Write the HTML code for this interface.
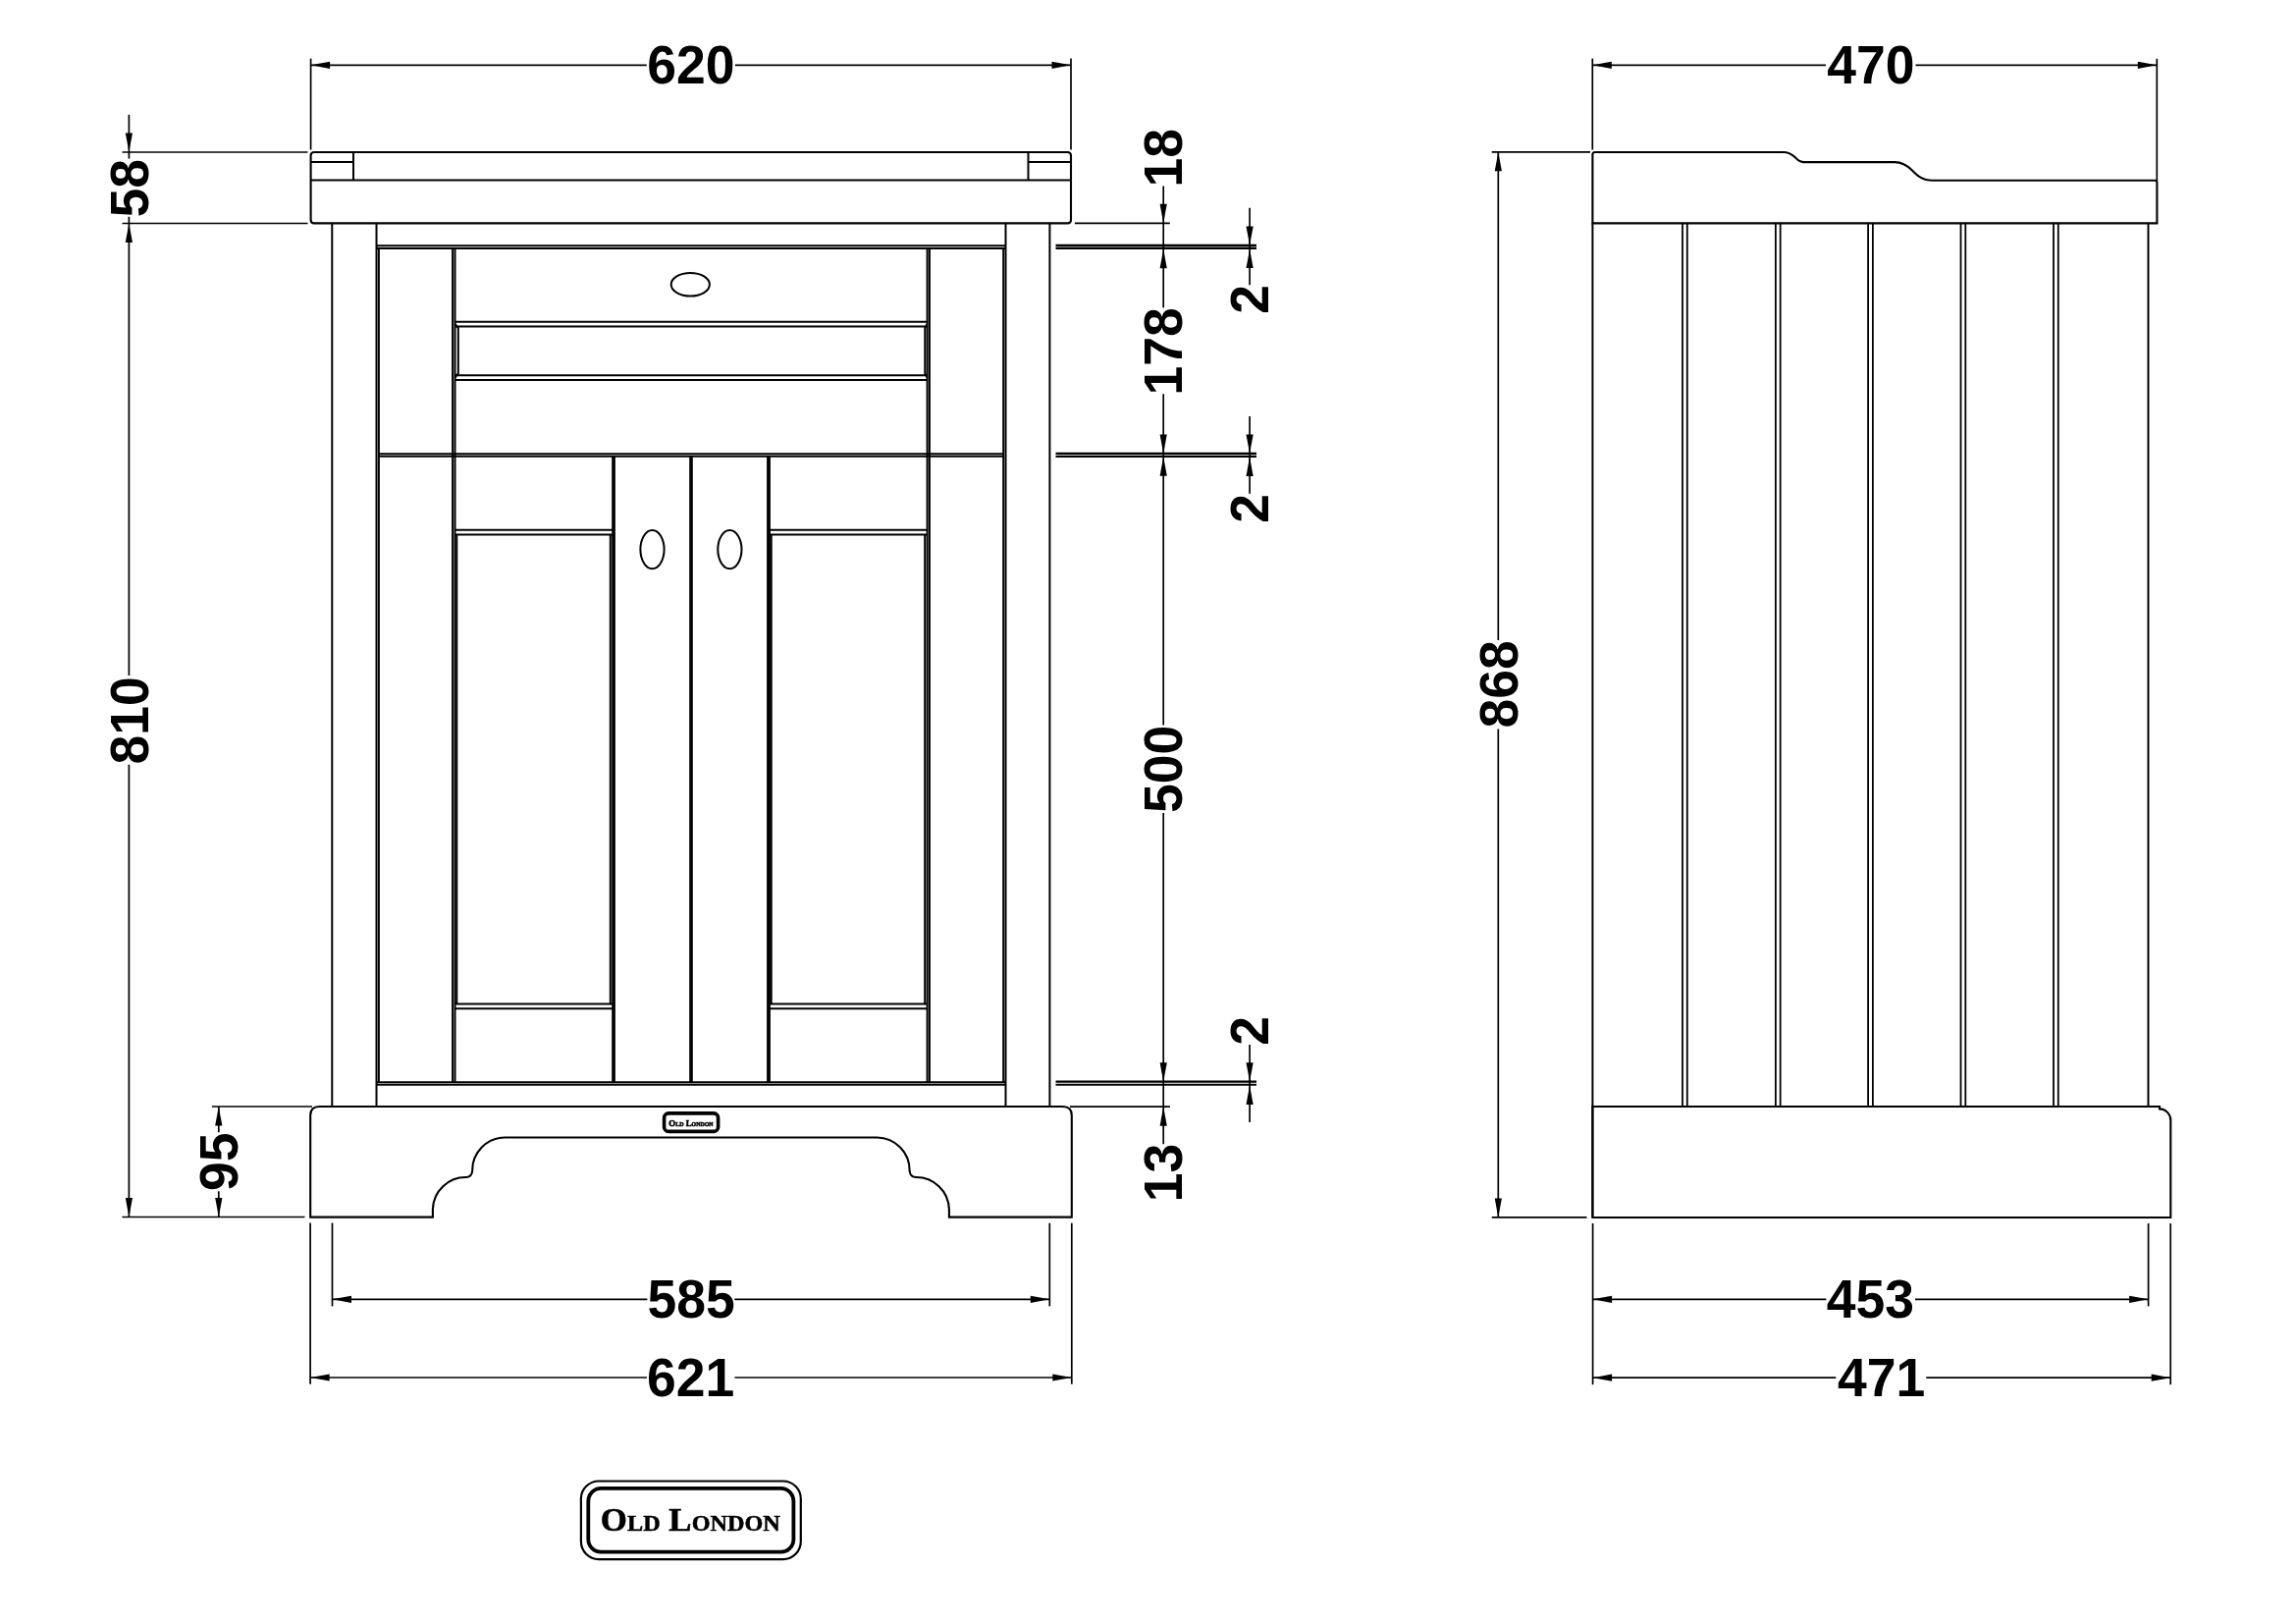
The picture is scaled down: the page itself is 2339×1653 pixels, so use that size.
<!DOCTYPE html>
<html><head><meta charset="utf-8"><title>Drawing</title>
<style>
html,body{margin:0;padding:0;background:#fff;}
body{width:2339px;height:1653px;overflow:hidden;}
svg{display:block;filter:grayscale(1);}
svg text{font-family:"Liberation Sans",sans-serif;font-weight:bold;font-size:53.5px;fill:#000;stroke:none;}
svg text.logo{font-family:"Liberation Serif",serif;font-variant:small-caps;font-weight:bold;stroke:#000;stroke-width:0.5px;}
</style></head>
<body>
<svg width="2339" height="1653" viewBox="0 0 2339 1653">
<rect x="0" y="0" width="2339" height="1653" fill="#fff"/>
<g stroke="#000" fill="none" stroke-linecap="butt">
<line x1="316.6" y1="59.6" x2="316.6" y2="152.5" stroke-width="1.7"/>
<line x1="1091" y1="59.6" x2="1091" y2="152.5" stroke-width="1.7"/>
<line x1="316.6" y1="66.3" x2="658.8" y2="66.3" stroke-width="1.7"/>
<line x1="748.9" y1="66.3" x2="1091" y2="66.3" stroke-width="1.7"/>
<polygon points="316.6,66.3 336.1,62.7 336.1,69.9" stroke="none" fill="#000"/>
<polygon points="1091,66.3 1071.5,62.7 1071.5,69.9" stroke="none" fill="#000"/>
<text transform="translate(703.8 66.3) scale(1 1.035)" x="0" y="18.5" text-anchor="middle">620</text>
<path d="M316.6,224 L316.6,158.5 Q316.6,155 320.1,155 L1087.5,155 Q1091,155 1091,158.5 L1091,224 Q1091,227.4 1087.6,227.4 L320,227.4 Q316.6,227.4 316.6,224 Z" stroke-width="2.1" fill="none"/>
<line x1="316.6" y1="165" x2="360" y2="165" stroke-width="2"/>
<line x1="360" y1="155" x2="360" y2="183.6" stroke-width="2"/>
<line x1="1047.5" y1="165" x2="1091" y2="165" stroke-width="2"/>
<line x1="1047.5" y1="155" x2="1047.5" y2="183.6" stroke-width="2"/>
<line x1="316.6" y1="183.6" x2="1091" y2="183.6" stroke-width="2"/>
<line x1="124.5" y1="155" x2="313.5" y2="155" stroke-width="1.7"/>
<line x1="124.5" y1="227.5" x2="313.5" y2="227.5" stroke-width="1.7"/>
<line x1="124.4" y1="1239.5" x2="310.5" y2="1239.5" stroke-width="1.7"/>
<line x1="215.9" y1="1127" x2="318" y2="1127" stroke-width="1.7"/>
<line x1="131.4" y1="116.8" x2="131.4" y2="161.6" stroke-width="1.7"/>
<polygon points="131.4,155 127.8,135.5 135,135.5" stroke="none" fill="#000"/>
<text transform="translate(131.4 191.7) rotate(-90) scale(1 1.035)" x="0" y="18.5" text-anchor="middle">58</text>
<line x1="131.4" y1="220.8" x2="131.4" y2="688" stroke-width="1.7"/>
<polygon points="131.4,227.5 127.8,247 135,247" stroke="none" fill="#000"/>
<text transform="translate(131.4 734) rotate(-90) scale(1 1.035)" x="0" y="18.5" text-anchor="middle">810</text>
<line x1="131.4" y1="778.7" x2="131.4" y2="1239.5" stroke-width="1.7"/>
<polygon points="131.4,1239.5 127.8,1220 135,1220" stroke="none" fill="#000"/>
<line x1="222.8" y1="1127" x2="222.8" y2="1153.2" stroke-width="1.7"/>
<polygon points="222.8,1127 219.2,1146.5 226.4,1146.5" stroke="none" fill="#000"/>
<text transform="translate(222.8 1183.2) rotate(-90) scale(1 1.035)" x="0" y="18.5" text-anchor="middle">95</text>
<line x1="222.8" y1="1213.3" x2="222.8" y2="1239.5" stroke-width="1.7"/>
<polygon points="222.8,1239.5 219.2,1220 226.4,1220" stroke="none" fill="#000"/>
<line x1="338.3" y1="227.4" x2="338.3" y2="1127" stroke-width="2"/>
<line x1="383.5" y1="227.4" x2="383.5" y2="1127" stroke-width="2"/>
<line x1="1024.5" y1="227.4" x2="1024.5" y2="1127" stroke-width="2"/>
<line x1="1069.4" y1="227.4" x2="1069.4" y2="1127" stroke-width="2"/>
<line x1="383.5" y1="250.3" x2="1024.5" y2="250.3" stroke-width="2"/>
<line x1="383.5" y1="253" x2="1024.5" y2="253" stroke-width="2"/>
<line x1="383.5" y1="1102.2" x2="1024.5" y2="1102.2" stroke-width="2"/>
<line x1="383.5" y1="1104.8" x2="1024.5" y2="1104.8" stroke-width="2"/>
<line x1="385.9" y1="253" x2="385.9" y2="1102.2" stroke-width="2"/>
<line x1="1022.2" y1="253" x2="1022.2" y2="1102.2" stroke-width="2"/>
<line x1="461.1" y1="253" x2="461.1" y2="1102.2" stroke-width="2"/>
<line x1="463.5" y1="253" x2="463.5" y2="1102.2" stroke-width="2"/>
<line x1="944.6" y1="253" x2="944.6" y2="1102.2" stroke-width="2"/>
<line x1="946.9" y1="253" x2="946.9" y2="1102.2" stroke-width="2"/>
<line x1="385.9" y1="462.2" x2="1022.2" y2="462.2" stroke-width="2"/>
<line x1="385.9" y1="464.7" x2="1022.2" y2="464.7" stroke-width="2"/>
<line x1="463.5" y1="327.8" x2="944.6" y2="327.8" stroke-width="2"/>
<line x1="463.5" y1="332.6" x2="944.6" y2="332.6" stroke-width="2"/>
<line x1="463.5" y1="382.3" x2="944.6" y2="382.3" stroke-width="2"/>
<line x1="463.5" y1="387" x2="944.6" y2="387" stroke-width="2"/>
<path d="M463.5,330 L466.8,334 L466.8,380.5 L463.5,384.5" stroke-width="2" fill="none"/>
<path d="M944.6,330 L942.3,334 L942.3,380.5 L944.6,384.5" stroke-width="2" fill="none"/>
<ellipse cx="703.3" cy="289.7" rx="19.6" ry="11.8" stroke-width="2" fill="none"/>
<line x1="624.2" y1="464.7" x2="624.2" y2="1102.2" stroke-width="2"/>
<line x1="625.9" y1="464.7" x2="625.9" y2="1102.2" stroke-width="2"/>
<line x1="703.2" y1="464.7" x2="703.2" y2="1102.2" stroke-width="2"/>
<line x1="704.8" y1="464.7" x2="704.8" y2="1102.2" stroke-width="2"/>
<line x1="782.1" y1="464.7" x2="782.1" y2="1102.2" stroke-width="2"/>
<line x1="783.9" y1="464.7" x2="783.9" y2="1102.2" stroke-width="2"/>
<line x1="463.5" y1="539.8" x2="624.2" y2="539.8" stroke-width="2"/>
<line x1="463.5" y1="544.5" x2="624.2" y2="544.5" stroke-width="2"/>
<line x1="463.5" y1="1022.5" x2="624.2" y2="1022.5" stroke-width="2"/>
<line x1="463.5" y1="1027.3" x2="624.2" y2="1027.3" stroke-width="2"/>
<line x1="465.3" y1="544.5" x2="465.3" y2="1022.5" stroke-width="2"/>
<line x1="621.8" y1="544.5" x2="621.8" y2="1022.5" stroke-width="2"/>
<line x1="783.9" y1="539.8" x2="944.6" y2="539.8" stroke-width="2"/>
<line x1="783.9" y1="544.5" x2="944.6" y2="544.5" stroke-width="2"/>
<line x1="783.9" y1="1022.5" x2="944.6" y2="1022.5" stroke-width="2"/>
<line x1="783.9" y1="1027.3" x2="944.6" y2="1027.3" stroke-width="2"/>
<line x1="785.7" y1="544.5" x2="785.7" y2="1022.5" stroke-width="2"/>
<line x1="942.2" y1="544.5" x2="942.2" y2="1022.5" stroke-width="2"/>
<ellipse cx="664.5" cy="559.6" rx="12.1" ry="19.6" stroke-width="2" fill="none"/>
<ellipse cx="743.4" cy="559.6" rx="12.1" ry="19.6" stroke-width="2" fill="none"/>
<path d="M316.2,1239.6 L316.2,1136 Q316.2,1127 325.2,1127 L1082.8,1127 Q1091.8,1127 1091.8,1136 L1091.8,1239.6 L966.9,1239.6 L966.9,1231.5 A33.5,33.5 0 0 0 932.6,1199 Q927,1198.5 926.6,1192.3 A33.5,33.5 0 0 0 893.5,1158.5 L514.3,1158.5 A33.5,33.5 0 0 0 481.2,1192.3 Q480.8,1198.5 475.2,1199 A33.5,33.5 0 0 0 440.9,1231.5 L440.9,1239.6 Z" stroke-width="2.1" fill="none"/>
<rect x="676.6" y="1133.9" width="55" height="18.5" rx="4.5" ry="4.5" stroke-width="3.6" fill="none"/>
<text transform="translate(704 1147) scale(0.98 1)" x="0" y="0" text-anchor="middle" class="logo" style="font-size:9px;stroke-width:0.55px">Old London</text>
<line x1="1094.9" y1="227.3" x2="1191.8" y2="227.3" stroke-width="1.7"/>
<line x1="1090" y1="1127.2" x2="1191.9" y2="1127.2" stroke-width="1.7"/>
<line x1="1075.5" y1="250" x2="1280" y2="250" stroke-width="2.3"/>
<line x1="1075.5" y1="252.9" x2="1280" y2="252.9" stroke-width="2.1"/>
<line x1="1075.5" y1="462" x2="1280" y2="462" stroke-width="2.3"/>
<line x1="1075.5" y1="465" x2="1280" y2="465" stroke-width="2.1"/>
<line x1="1075.5" y1="1101.7" x2="1280" y2="1101.7" stroke-width="2.3"/>
<line x1="1075.5" y1="1104.7" x2="1280" y2="1104.7" stroke-width="2.1"/>
<text transform="translate(1185.2 160.8) rotate(-90) scale(1 1.035)" x="0" y="18.5" text-anchor="middle">18</text>
<line x1="1185.2" y1="189.5" x2="1185.2" y2="313.4" stroke-width="1.7"/>
<polygon points="1185.2,227.3 1181.6,207.8 1188.8,207.8" stroke="none" fill="#000"/>
<polygon points="1185.2,253.7 1181.6,273.2 1188.8,273.2" stroke="none" fill="#000"/>
<text transform="translate(1185.2 357.8) rotate(-90) scale(1 1.035)" x="0" y="18.5" text-anchor="middle">178</text>
<line x1="1185.2" y1="401.2" x2="1185.2" y2="738.4" stroke-width="1.7"/>
<polygon points="1185.2,462 1181.6,442.5 1188.8,442.5" stroke="none" fill="#000"/>
<polygon points="1185.2,465.3 1181.6,484.8 1188.8,484.8" stroke="none" fill="#000"/>
<text transform="translate(1185.2 783.5) rotate(-90) scale(1 1.035)" x="0" y="18.5" text-anchor="middle">500</text>
<line x1="1185.2" y1="828.1" x2="1185.2" y2="1165.2" stroke-width="1.7"/>
<polygon points="1185.2,1101.7 1181.6,1082.2 1188.8,1082.2" stroke="none" fill="#000"/>
<polygon points="1185.2,1127.2 1181.6,1146.7 1188.8,1146.7" stroke="none" fill="#000"/>
<text transform="translate(1185.2 1194.5) rotate(-90) scale(1 1.035)" x="0" y="18.5" text-anchor="middle">13</text>
<line x1="1273.1" y1="211.8" x2="1273.1" y2="290.2" stroke-width="1.7"/>
<polygon points="1273.1,250 1269.5,230.5 1276.7,230.5" stroke="none" fill="#000"/>
<polygon points="1273.1,253.6 1269.5,273.1 1276.7,273.1" stroke="none" fill="#000"/>
<text transform="translate(1273.1 304.8) rotate(-90) scale(1 1.035)" x="0" y="18.5" text-anchor="middle">2</text>
<line x1="1273.1" y1="423.9" x2="1273.1" y2="502.8" stroke-width="1.7"/>
<polygon points="1273.1,462 1269.5,442.5 1276.7,442.5" stroke="none" fill="#000"/>
<polygon points="1273.1,465.4 1269.5,484.9 1276.7,484.9" stroke="none" fill="#000"/>
<text transform="translate(1273.1 517.8) rotate(-90) scale(1 1.035)" x="0" y="18.5" text-anchor="middle">2</text>
<text transform="translate(1273.1 1049.8) rotate(-90) scale(1 1.035)" x="0" y="18.5" text-anchor="middle">2</text>
<line x1="1273.1" y1="1064.1" x2="1273.1" y2="1143" stroke-width="1.7"/>
<polygon points="1273.1,1101.7 1269.5,1082.2 1276.7,1082.2" stroke="none" fill="#000"/>
<polygon points="1273.1,1105.4 1269.5,1124.9 1276.7,1124.9" stroke="none" fill="#000"/>
<line x1="316.1" y1="1245.5" x2="316.1" y2="1409.7" stroke-width="1.7"/>
<line x1="338.5" y1="1245.5" x2="338.5" y2="1330.4" stroke-width="1.7"/>
<line x1="1069.3" y1="1245.7" x2="1069.3" y2="1330.4" stroke-width="1.7"/>
<line x1="1091.8" y1="1245.7" x2="1091.8" y2="1409.7" stroke-width="1.7"/>
<line x1="338.5" y1="1323.3" x2="659.4" y2="1323.3" stroke-width="1.7"/>
<line x1="748.3" y1="1323.3" x2="1069.3" y2="1323.3" stroke-width="1.7"/>
<polygon points="338.5,1323.3 358,1319.7 358,1326.9" stroke="none" fill="#000"/>
<polygon points="1069.3,1323.3 1049.8,1319.7 1049.8,1326.9" stroke="none" fill="#000"/>
<text transform="translate(704.1 1323.3) scale(1 1.035)" x="0" y="18.5" text-anchor="middle">585</text>
<line x1="316.1" y1="1403" x2="659" y2="1403" stroke-width="1.7"/>
<line x1="748.5" y1="1403" x2="1091.8" y2="1403" stroke-width="1.7"/>
<polygon points="316.1,1403 335.6,1399.4 335.6,1406.6" stroke="none" fill="#000"/>
<polygon points="1091.8,1403 1072.3,1399.4 1072.3,1406.6" stroke="none" fill="#000"/>
<text transform="translate(703.6 1403) scale(1 1.035)" x="0" y="18.5" text-anchor="middle">621</text>
<rect x="591.9" y="1508.5" width="223.9" height="79.6" rx="18" ry="18" stroke-width="2.2" fill="none"/>
<rect x="599.3" y="1515.9" width="209.1" height="64.8" rx="13" ry="13" stroke-width="3.8" fill="none"/>
<text transform="translate(703.35 1559.3) scale(1.02 1)" x="0" y="0" text-anchor="middle" class="logo" style="font-size:34.2px">Old London</text>
<line x1="1622.3" y1="59.6" x2="1622.3" y2="152.5" stroke-width="1.7"/>
<line x1="2197.3" y1="59.8" x2="2197.3" y2="184" stroke-width="1.7"/>
<line x1="1622.3" y1="66.3" x2="1860" y2="66.3" stroke-width="1.7"/>
<line x1="1951.5" y1="66.3" x2="2197.3" y2="66.3" stroke-width="1.7"/>
<polygon points="1622.3,66.3 1641.8,62.7 1641.8,69.9" stroke="none" fill="#000"/>
<polygon points="2197.3,66.3 2177.8,62.7 2177.8,69.9" stroke="none" fill="#000"/>
<text transform="translate(1905.8 66.3) scale(1 1.035)" x="0" y="18.5" text-anchor="middle">470</text>
<path d="M1622.4,227.4 L1622.4,157.5 Q1622.4,155 1624.9,155 L1816.5,155 C1823,155 1826,157.5 1829,160.5 C1831.5,163 1833,165.1 1837,165.1 L1930.2,165.1 C1938,165.1 1942.5,168 1948,173.5 C1953,178.5 1958,183.8 1968.6,183.8 L2195.3,183.8 Q2197.4,183.8 2197.4,186 L2197.4,227.4 Z" stroke-width="2.1" fill="none"/>
<line x1="1622.4" y1="227.4" x2="1622.4" y2="1240" stroke-width="2"/>
<line x1="2188.5" y1="227.4" x2="2188.5" y2="1127" stroke-width="2"/>
<line x1="1714" y1="227.4" x2="1714" y2="1127" stroke-width="1.8"/>
<line x1="1718.8" y1="227.4" x2="1718.8" y2="1127" stroke-width="1.8"/>
<line x1="1808.9" y1="227.4" x2="1808.9" y2="1127" stroke-width="1.8"/>
<line x1="1813.7" y1="227.4" x2="1813.7" y2="1127" stroke-width="1.8"/>
<line x1="1903.1" y1="227.4" x2="1903.1" y2="1127" stroke-width="1.8"/>
<line x1="1907.9" y1="227.4" x2="1907.9" y2="1127" stroke-width="1.8"/>
<line x1="1997.5" y1="227.4" x2="1997.5" y2="1127" stroke-width="1.8"/>
<line x1="2002.3" y1="227.4" x2="2002.3" y2="1127" stroke-width="1.8"/>
<line x1="2092" y1="227.4" x2="2092" y2="1127" stroke-width="1.8"/>
<line x1="2096.8" y1="227.4" x2="2096.8" y2="1127" stroke-width="1.8"/>
<path d="M1622.4,1127 L2200,1127 L2200,1129.4 A11.5,11.5 0 0 1 2211.3,1141 L2211.3,1240 L1622.4,1240 Z" stroke-width="2.1" fill="none"/>
<line x1="1519.7" y1="154.8" x2="1620" y2="154.8" stroke-width="1.7"/>
<line x1="1519.7" y1="1239.9" x2="1616.5" y2="1239.9" stroke-width="1.7"/>
<line x1="1526.3" y1="154.8" x2="1526.3" y2="652" stroke-width="1.7"/>
<polygon points="1526.3,154.8 1522.7,174.3 1529.9,174.3" stroke="none" fill="#000"/>
<text transform="translate(1526.4 696.9) rotate(-90) scale(1 1.035)" x="0" y="18.5" text-anchor="middle">868</text>
<line x1="1526.3" y1="742.6" x2="1526.3" y2="1239.9" stroke-width="1.7"/>
<polygon points="1526.3,1239.9 1522.7,1220.4 1529.9,1220.4" stroke="none" fill="#000"/>
<line x1="1622.6" y1="1246" x2="1622.6" y2="1410.2" stroke-width="1.7"/>
<line x1="2188.6" y1="1246" x2="2188.6" y2="1330.4" stroke-width="1.7"/>
<line x1="2211.2" y1="1246" x2="2211.2" y2="1410.2" stroke-width="1.7"/>
<line x1="1622.6" y1="1323.3" x2="1860.4" y2="1323.3" stroke-width="1.7"/>
<line x1="1951" y1="1323.3" x2="2188.6" y2="1323.3" stroke-width="1.7"/>
<polygon points="1622.6,1323.3 1642.1,1319.7 1642.1,1326.9" stroke="none" fill="#000"/>
<polygon points="2188.6,1323.3 2169.1,1319.7 2169.1,1326.9" stroke="none" fill="#000"/>
<text transform="translate(1905.4 1323.3) scale(1 1.035)" x="0" y="18.5" text-anchor="middle">453</text>
<line x1="1622.6" y1="1403.2" x2="1870.3" y2="1403.2" stroke-width="1.7"/>
<line x1="1962.3" y1="1403.2" x2="2211.2" y2="1403.2" stroke-width="1.7"/>
<polygon points="1622.6,1403.2 1642.1,1399.6 1642.1,1406.8" stroke="none" fill="#000"/>
<polygon points="2211.2,1403.2 2191.7,1399.6 2191.7,1406.8" stroke="none" fill="#000"/>
<text transform="translate(1916.7 1403.2) scale(1 1.035)" x="0" y="18.5" text-anchor="middle">471</text>
</g>
</svg>
</body></html>
